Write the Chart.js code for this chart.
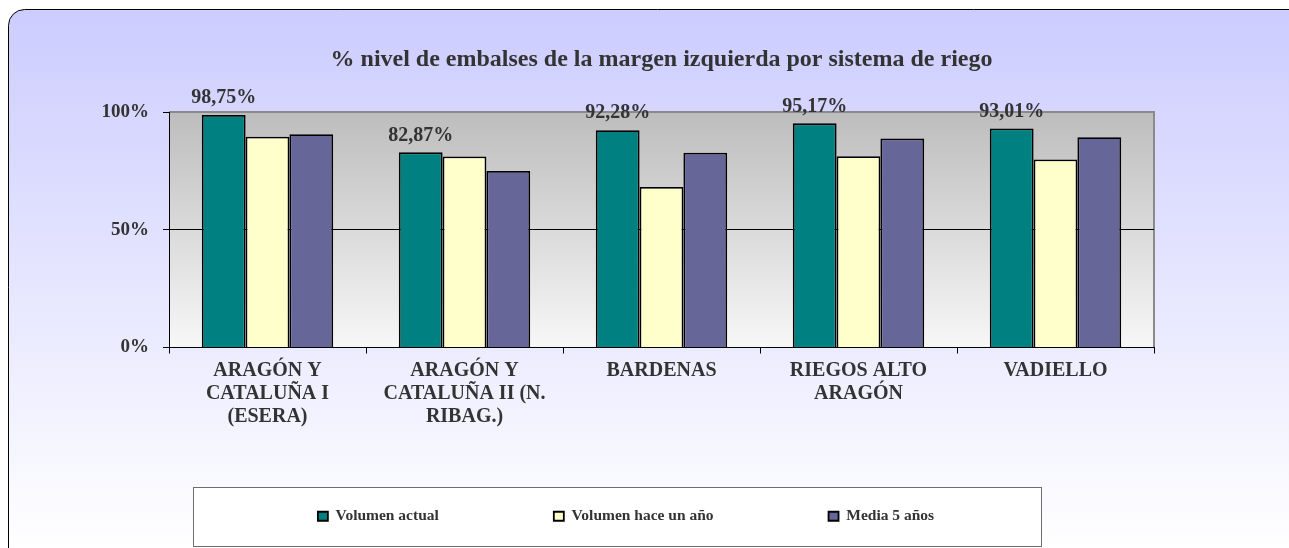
<!DOCTYPE html>
<html>
<head>
<meta charset="utf-8">
<script src="https://cdn.jsdelivr.net/npm/chart.js@4.4.0/dist/chart.umd.min.js"></script>
<style>
  html, body { margin: 0; padding: 0; background: #fff; }
  #wrap { width: 1289px; height: 548px; }
</style>
</head>
<body>
<div id="wrap"><canvas id="embalses"></canvas></div>
<script>
const sistemas = [
    ['ARAGÓN Y', 'CATALUÑA I', '(ESERA)'],
    ['ARAGÓN Y', 'CATALUÑA II (N.', 'RIBAG.)'],
    ['BARDENAS'],
    ['RIEGOS ALTO', 'ARAGÓN'],
    ['VADIELLO']
];
const volumenActual = [98.75, 82.87, 92.28, 95.17, 93.01];
const volumenHaceUnAno = [89.5, 81.1, 68.2, 81.2, 79.8];
const media5Anos = [90.6, 75.0, 82.7, 88.8, 89.3];
const yTicks = [0, 50, 100];
const titulo = '% nivel de embalses de la margen izquierda por sistema de riego';

const serif = '"Liberation Serif", "Times New Roman", serif';
const ink = '#333333';

// marco redondeado, fondo del grafico y marco de la leyenda
const fondo = {
    id: 'fondo',
    beforeDraw(chart) {
        const c = chart.ctx;
        const a = chart.chartArea;
        c.save();
        const g = c.createLinearGradient(0, 9, 0, 548);
        g.addColorStop(0, '#ccccff');
        g.addColorStop(1, '#ffffff');
        c.beginPath();
        c.roundRect(8.5, 9.5, 1300, 560, 16);
        c.fillStyle = g;
        c.fill();
        c.strokeStyle = '#000';
        c.lineWidth = 1;
        c.stroke();

        const p = c.createLinearGradient(0, a.top, 0, a.bottom);
        p.addColorStop(0, '#bdbdbd');
        p.addColorStop(1, '#f7f7f7');
        c.fillStyle = p;
        c.fillRect(a.left, a.top, a.right - a.left, a.bottom - a.top);
        c.strokeStyle = '#8a8a8a';
        c.lineWidth = 2;
        c.beginPath();
        c.moveTo(a.left, a.top);
        c.lineTo(a.right, a.top);
        c.lineTo(a.right, a.bottom);
        c.stroke();

        c.fillStyle = '#fff';
        c.fillRect(193, 487, 848, 59);
        c.strokeStyle = '#6e6e6e';
        c.lineWidth = 1;
        c.strokeRect(193.5, 487.5, 848, 59);

        // titulo centrado sobre el area de trazado, como en Excel
        c.font = 'bold 24px ' + serif;
        c.fillStyle = ink;
        c.textAlign = 'center';
        c.textBaseline = 'middle';
        c.fillText(titulo, (a.left + a.right) / 2, 60);
        c.restore();
    }
};

const etiquetas = {
    id: 'etiquetas',
    afterDatasetsDraw(chart) {
        const c = chart.ctx;
        const meta = chart.getDatasetMeta(0);
        c.save();
        c.font = 'bold 20px ' + serif;
        c.fillStyle = ink;
        c.textAlign = 'center';
        c.textBaseline = 'middle';
        meta.data.forEach((bar, i) => {
            const txt = volumenActual[i].toFixed(2).replace('.', ',') + '%';
            c.fillText(txt, bar.x, bar.y - 17);
        });
        c.restore();
    }
};

new Chart(document.getElementById('embalses'), {
    type: 'bar',
    data: {
        labels: sistemas,
        datasets: [{
            label: 'Volumen actual',
            data: volumenActual,
            backgroundColor: '#008080',
            borderColor: '#000',
            borderWidth: 1.8
        }, {
            label: 'Volumen hace un año',
            data: volumenHaceUnAno,
            backgroundColor: '#ffffcc',
            borderColor: '#000',
            borderWidth: 1.8
        }, {
            label: 'Media 5 años',
            data: media5Anos,
            backgroundColor: '#666699',
            borderColor: '#000',
            borderWidth: 1.8
        }]
    },
    options: {
        responsive: true,
        maintainAspectRatio: false,
        animation: false,
        categoryPercentage: 0.667,
        barPercentage: 1,
        layout: { padding: { left: 98, right: 135, top: 112, bottom: 14 } },
        plugins: {
            title: { display: false },
            legend: {
                position: 'bottom',
                labels: {
                    color: ink,
                    font: { family: serif, size: 15.5, weight: 'bold' },
                    boxWidth: 10,
                    boxHeight: 9,
                    padding: 115
                }
            },
            tooltip: { enabled: false }
        },
        scales: {
            x: {
                afterFit(scale) {
                    scale.height = 46;
                    // las etiquetas de varias lineas bajan hasta la zona de la leyenda
                    scale._computeLabelArea = () => undefined;
                },
                grid: { drawOnChartArea: false, tickLength: 6, tickColor: '#000' },
                border: { color: '#000', width: 1 },
                ticks: {
                    color: ink,
                    padding: 6,
                    maxRotation: 0,
                    font: { family: serif, size: 20, weight: 'bold', lineHeight: 1.15 }
                }
            },
            y: {
                min: 0,
                max: 100,
                afterFit(scale) { scale.width = 71; },
                afterBuildTicks(scale) { scale.ticks = yTicks.map(v => ({ value: v })); },
                grid: {
                    tickLength: 6,
                    tickColor: '#000',
                    color: ctx => ctx.tick && ctx.tick.value === 50 ? '#000' : 'rgba(0,0,0,0)'
                },
                border: { color: '#000', width: 1 },
                ticks: {
                    color: ink,
                    padding: 14,
                    font: { family: serif, size: 19, weight: 'bold' },
                    callback: v => v + '%'
                }
            }
        }
    },
    plugins: [fondo, etiquetas]
});
</script>
</body>
</html>
